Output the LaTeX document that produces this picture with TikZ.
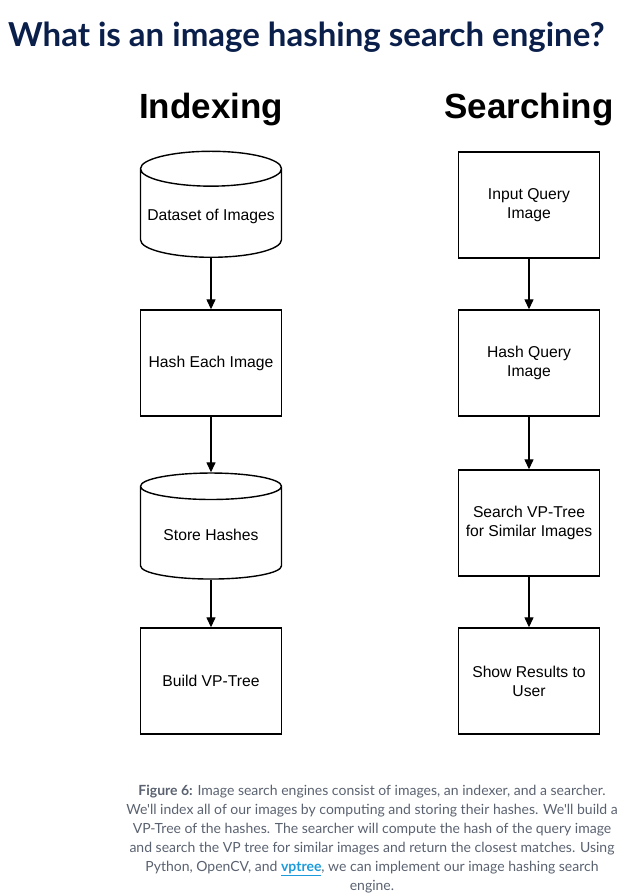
\documentclass[tikz,border=0pt]{standalone}
\usepackage{fontspec}
\setmainfont{Liberation Sans}
\newfontfamily\capfont{Lato}
\usetikzlibrary{shapes.geometric, arrows.meta, positioning}
\definecolor{titleblue}{HTML}{0B1F4B}
\definecolor{capgray}{HTML}{5A6270}
\definecolor{linkblue}{HTML}{1B9BDB}

\begin{document}
\begin{tikzpicture}[x=1pt, y=-1pt,
    boxtext/.style={font=\fontsize{15.7}{19}\selectfont, align=center},
    proc/.style={draw, line width=1.4pt, rectangle, minimum width=141pt, minimum height=106pt, boxtext},
    store/.style={draw, line width=1.4pt, cylinder, shape border rotate=90, aspect=0.26, minimum width=141pt, minimum height=106pt, boxtext},
    arr/.style={line width=1.3pt, -{Triangle[width=9pt,length=10pt]}}]
    \useasboundingbox (0,0) rectangle (619,895);
    % title and column heads
    \node [anchor=base west, inner sep=0pt, text=titleblue, font=\capfont\bfseries\fontsize{33}{38}\selectfont] (title) at (8,46) {What is an image hashing search engine?};
    \node [anchor=base, inner sep=0pt, font=\bfseries\fontsize{35}{40}\selectfont] (idx) at (211,118) {Indexing};
    \node [anchor=base, inner sep=0pt, font=\bfseries\fontsize{35}{40}\selectfont] (srch) at (529,118) {Searching};
    % indexing column
    \node [store] (data) at (211, 216) {Dataset of Images};
    \node [proc] (hash) at (211, 363) {Hash Each Image};
    \node [store] (keep) at (211, 535) {Store Hashes};
    \node [proc] (build) at (211, 681) {Build VP-Tree};
    \draw [arr] (data) -- (hash);
    \draw [arr] (hash) -- (keep);
    \draw [arr] (keep) -- (build);
    % searching column
    \node [proc] (query) at (529, 205) {Input Query\\Image};
    \node [proc] (qhash) at (529, 363) {Hash Query\\Image};
    \node [proc] (look) at (529, 523) {Search VP-Tree\\for Similar Images};
    \node [proc] (show) at (529, 681) {Show Results to\\User};
    \draw [arr] (query) -- (qhash);
    \draw [arr] (qhash) -- (look);
    \draw [arr] (look) -- (show);
    % caption
    \node [anchor=north, inner sep=0pt, align=center, text=capgray, font=\capfont\fontsize{14}{19}\selectfont] (cap) at (372,785)
        {\textbf{Figure 6:} Image search engines consist of images, an indexer, and a searcher.\\
         We'll index all of our images by computing and storing their hashes. We'll build a\\
         VP-Tree of the hashes. The searcher will compute the hash of the query image\\
         and search the VP tree for similar images and return the closest matches. Using\\
         Python, OpenCV, and \textcolor{linkblue}{\underline{\textbf{vptree}}}, we can implement our image hashing search\\
         engine.};
\end{tikzpicture}
\end{document}
